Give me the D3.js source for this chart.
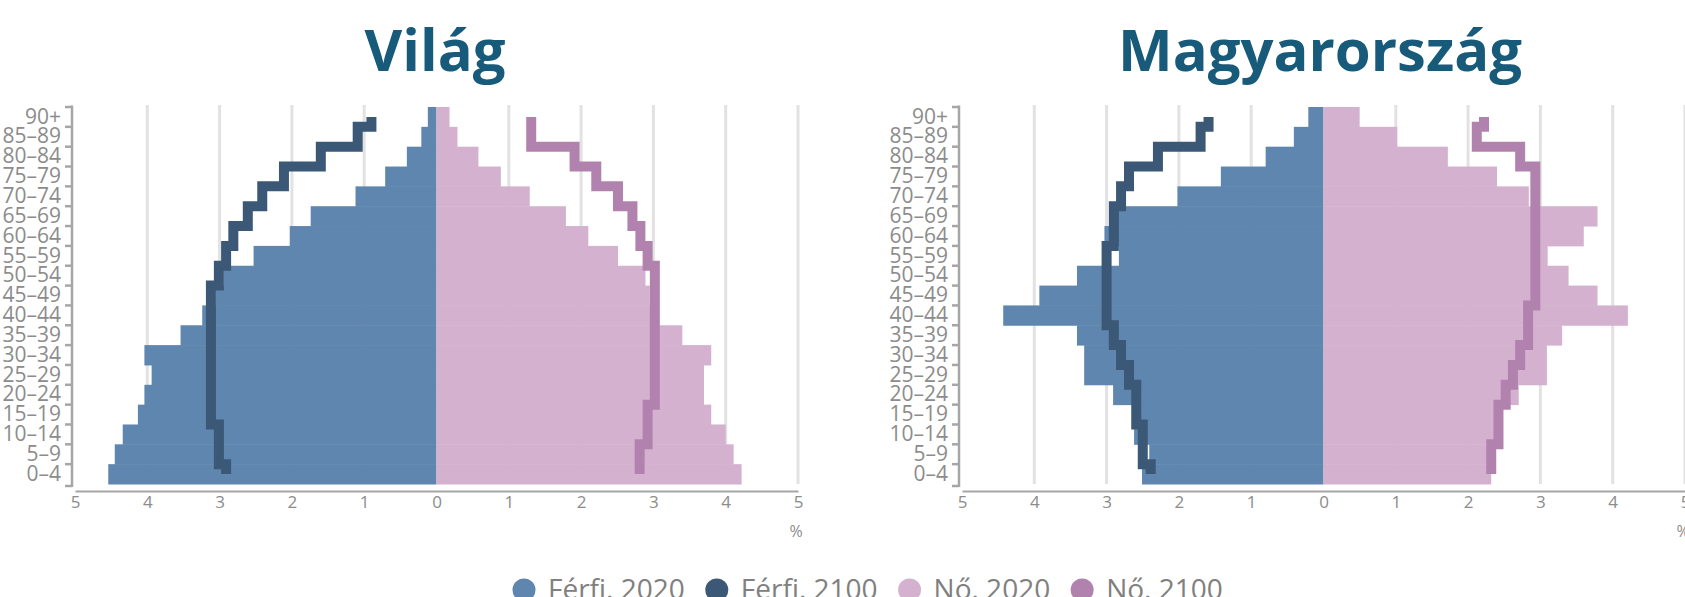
<!DOCTYPE html>
<html>
<head>
<meta charset="utf-8">
<script src="https://cdn.jsdelivr.net/npm/d3@7"></script>
<style>
  body { margin: 0; background: #fff; }
  svg { display: block; font-family: "Open Sans", sans-serif; }
</style>
</head>
<body>
<svg id="chart" width="1685" height="597"></svg>
<script>
// age groups, top to bottom
var ages = ["90+", "85–89", "80–84", "75–79", "70–74", "65–69", "60–64", "55–59", "50–54",
  "45–49", "40–44", "35–39", "30–34", "25–29", "20–24", "15–19", "10–14", "5–9", "0–4"];

var xTicks = [-5, -4, -3, -2, -1, 0, 1, 2, 3, 4, 5];

// Világ (% of population)
var worldMale2020 = [0.12, 0.21, 0.41, 0.71, 1.12, 1.74, 2.03, 2.53, 2.94, 3.05, 3.24, 3.54, 4.04, 3.94, 4.04, 4.13, 4.34, 4.45, 4.54];
var worldMale2100 = [0.90, 1.09, 1.60, 2.11, 2.41, 2.61, 2.81, 2.91, 3.01, 3.12, 3.12, 3.12, 3.12, 3.12, 3.12, 3.12, 3.01, 3.01, 2.91];
var worldFemale2020 = [0.18, 0.29, 0.58, 0.89, 1.29, 1.79, 2.10, 2.51, 2.89, 2.95, 3.00, 3.40, 3.80, 3.70, 3.70, 3.80, 4.00, 4.11, 4.22];
var worldFemale2100 = [1.31, 1.31, 1.91, 2.21, 2.51, 2.71, 2.82, 2.92, 3.02, 3.02, 3.02, 3.02, 3.02, 3.02, 3.02, 2.92, 2.92, 2.81, 2.81];

// Magyarország
var huMale2020 = [0.21, 0.41, 0.80, 1.42, 2.02, 2.85, 3.03, 2.83, 3.41, 3.93, 4.43, 3.41, 3.31, 3.31, 2.91, 2.62, 2.62, 2.41, 2.51];
var huMale2100 = [1.59, 1.70, 2.29, 2.69, 2.80, 2.90, 2.90, 3.00, 3.00, 3.00, 3.00, 2.90, 2.80, 2.69, 2.59, 2.59, 2.50, 2.50, 2.39];
var huFemale2020 = [0.50, 1.02, 1.72, 2.40, 2.84, 3.79, 3.60, 3.10, 3.39, 3.79, 4.21, 3.30, 3.09, 3.09, 2.70, 2.45, 2.45, 2.35, 2.32];
var huFemale2100 = [2.22, 2.12, 2.72, 2.93, 2.93, 2.93, 2.93, 2.93, 2.93, 2.93, 2.83, 2.83, 2.72, 2.62, 2.52, 2.42, 2.42, 2.32, 2.32];

var legendLabels = ["Férfi. 2020", "Férfi. 2100", "Nő. 2020", "Nő. 2100"];

var colMale2020 = "#5f86ae";
var colMale2100 = "#3b5877";
var colFemale2020 = "#d4b2cf";
var colFemale2100 = "#b282af";
var legendColors = [colMale2020, colMale2100, colFemale2020, colFemale2100];

var svg = d3.select("#chart");

var y = d3.scaleBand().domain(ages).range([107, 484]).padding(0);

function drawPanel(opts) {
  var x = d3.scaleLinear().domain([-5, 5]).range(opts.range);
  var g = svg.append("g");
  var axisX = opts.range[0] - 3;

  // title
  g.append("text")
    .attr("x", opts.titleX)
    .attr("y", 71)
    .attr("text-anchor", "middle")
    .attr("font-size", 58)
    .attr("font-weight", 700)
    .attr("fill", "#185a7a")
    .text(opts.title);

  // gridlines
  g.selectAll(".grid")
    .data(xTicks.filter(function(d) { return d != 0 && d != -5; }))
    .join("line")
    .attr("x1", function(d) { return x(d); })
    .attr("x2", function(d) { return x(d); })
    .attr("y1", 105)
    .attr("y2", 484)
    .attr("stroke", "#e2e2e2")
    .attr("stroke-width", 3);

  // bars
  g.selectAll(".male")
    .data(opts.male2020)
    .join("rect")
    .attr("x", function(d) { return x(-d); })
    .attr("width", function(d) { return x(0) - x(-d); })
    .attr("y", function(d, i) { return y(ages[i]); })
    .attr("height", y.bandwidth() + 0.5)
    .attr("fill", colMale2020);

  g.selectAll(".female")
    .data(opts.female2020)
    .join("rect")
    .attr("x", x(0))
    .attr("width", function(d) { return x(d) - x(0); })
    .attr("y", function(d, i) { return y(ages[i]); })
    .attr("height", y.bandwidth() + 0.5)
    .attr("fill", colFemale2020);

  // step outlines for 2100
  function stepPoints(vals, sign) {
    var pts = [];
    var bw = y.bandwidth();
    pts.push([x(sign * vals[0]), y(ages[0]) + bw / 2]);
    for (var i = 0; i < vals.length - 1; i++) {
      var yb = y(ages[i]) + bw;
      pts.push([x(sign * vals[i]), yb]);
      pts.push([x(sign * vals[i + 1]), yb]);
    }
    var last = vals.length - 1;
    pts.push([x(sign * vals[last]), y(ages[last]) + bw / 2]);
    return pts;
  }
  var line = d3.line();

  g.append("path")
    .attr("d", line(stepPoints(opts.male2100, -1)))
    .attr("fill", "none")
    .attr("stroke", colMale2100)
    .attr("stroke-width", 10)
    .attr("stroke-linejoin", "miter");

  g.append("path")
    .attr("d", line(stepPoints(opts.female2100, 1)))
    .attr("fill", "none")
    .attr("stroke", colFemale2100)
    .attr("stroke-width", 10)
    .attr("stroke-linejoin", "miter");

  // y axis: labels
  var yAxis = g.append("g")
    .attr("transform", "translate(" + axisX + ",0)")
    .call(d3.axisLeft(y).tickSize(0).tickPadding(11));
  yAxis.select(".domain").remove();
  yAxis.selectAll("text")
    .attr("font-family", "Open Sans, sans-serif")
    .attr("font-size", 21)
    .attr("fill", "#8c8c8c");

  // y axis bracket with ticks at the band edges
  var edges = ages.map(function(a) { return y(a); }).concat([y.range()[1]]);
  g.append("line")
    .attr("x1", axisX).attr("x2", axisX)
    .attr("y1", edges[0] - 1.5).attr("y2", edges[edges.length - 1] + 3)
    .attr("stroke", "#a6a6a6").attr("stroke-width", 2.5);
  g.selectAll(".ytick")
    .data(edges)
    .join("line")
    .attr("x1", axisX - 7).attr("x2", axisX)
    .attr("y1", function(d, i) { return i == edges.length - 1 ? d + 2 : d; })
    .attr("y2", function(d, i) { return i == edges.length - 1 ? d + 2 : d; })
    .attr("stroke", "#a6a6a6").attr("stroke-width", 2.5);

  // x axis
  var xAxis = g.append("g")
    .attr("transform", "translate(0,491)")
    .call(d3.axisBottom(x).tickValues(xTicks).tickSize(0).tickSizeOuter(0).tickPadding(5)
      .tickFormat(function(d) { return Math.abs(d); }));
  xAxis.select(".domain")
    .attr("stroke", "#a6a6a6").attr("stroke-width", 2);
  xAxis.selectAll("text")
    .attr("font-family", "Open Sans, sans-serif")
    .attr("font-size", 17)
    .attr("fill", "#8c8c8c");

  g.append("text")
    .attr("x", x(5) - 2)
    .attr("y", 537)
    .attr("text-anchor", "middle")
    .attr("font-size", 16)
    .attr("fill", "#8c8c8c")
    .text("%");
}

drawPanel({
  title: "Világ", titleX: 435, range: [75, 798],
  male2020: worldMale2020, male2100: worldMale2100,
  female2020: worldFemale2020, female2100: worldFemale2100
});

drawPanel({
  title: "Magyarország", titleX: 1320, range: [962, 1685],
  male2020: huMale2020, male2100: huMale2100,
  female2020: huFemale2020, female2100: huFemale2100
});

// legend
var legend = svg.append("g");
var lx = 524;
legendLabels.forEach(function(label, i) {
  legend.append("circle")
    .attr("cx", lx).attr("cy", 590).attr("r", 11.5)
    .attr("fill", legendColors[i]);
  var t = legend.append("text")
    .attr("x", lx + 24).attr("y", 599)
    .attr("font-size", 28)
    .attr("fill", "#808080")
    .text(label);
  lx += 24 + t.node().getComputedTextLength() + 32;
});
</script>
</body>
</html>
